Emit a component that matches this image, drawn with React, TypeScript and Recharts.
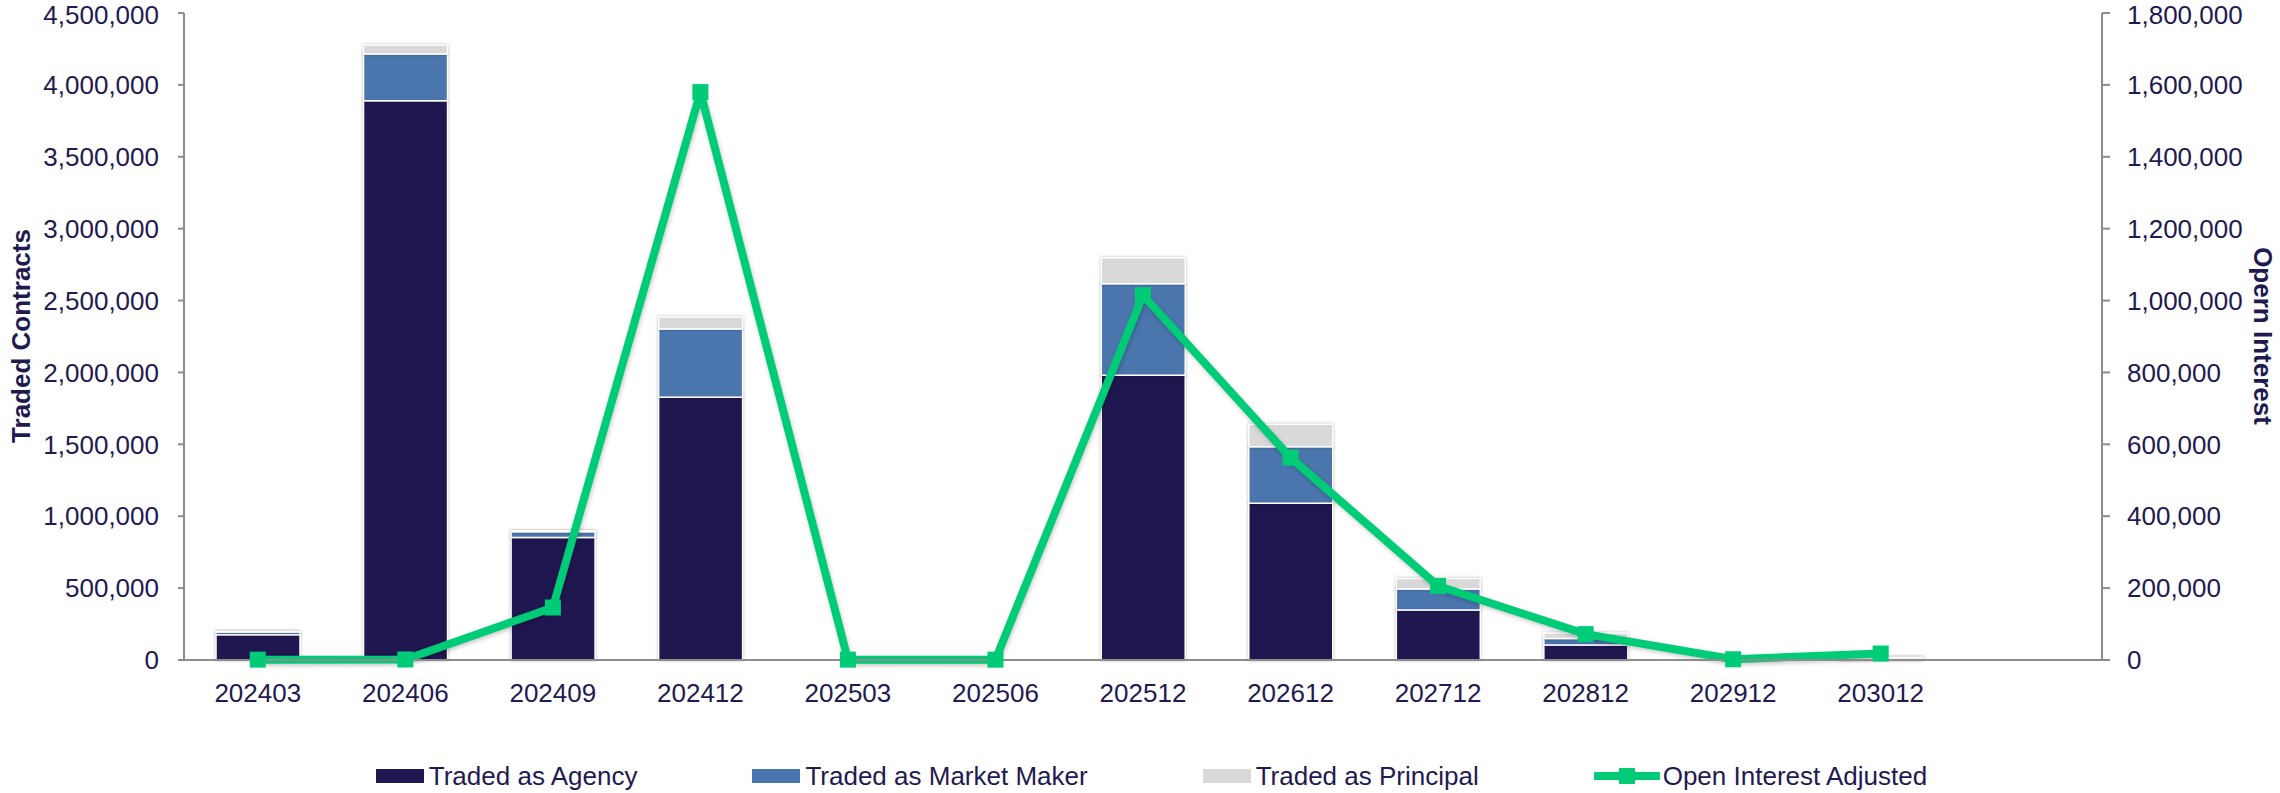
import React from 'react'
import { ComposedChart, Bar, Line, XAxis, YAxis, Legend } from 'recharts'

const categories = ['202403', '202406', '202409', '202412', '202503', '202506', '202512', '202612', '202712', '202812', '202912', '203012', '']
const agency = [175000, 3890000, 852000, 1828000, 0, 0, 1980000, 1090000, 347000, 104000, 0, 10000, null]
const marketMaker = [20000, 325000, 40000, 474000, 0, 0, 637000, 394000, 146000, 46000, 0, 4000, null]
const principal = [4000, 62000, 7000, 84000, 0, 0, 180000, 155000, 74000, 37000, 0, 5000, null]
const openInterest = [1000, 1500, 146000, 1580000, 1000, 1000, 1015000, 563000, 206000, 72000, 2000, 18000, null]
const leftTicks = [0, 500000, 1000000, 1500000, 2000000, 2500000, 3000000, 3500000, 4000000, 4500000]
const rightTicks = [0, 200000, 400000, 600000, 800000, 1000000, 1200000, 1400000, 1600000, 1800000]

const NAVY = '#201751'
const BLUE = '#4A76AD'
const GREY = '#D9D9D9'
const GREEN = '#00CC78'
const TEXT = '#1F1A4F'
const AXIS = '#8c8c8c'
const FONT = '"Liberation Sans", Arial, sans-serif'

const data = categories.map((c, i) => ({
  name: c,
  agency: agency[i],
  marketMaker: marketMaker[i],
  principal: principal[i],
  openInterest: openInterest[i],
}))

const fmt = (v: number) => v.toLocaleString('en-US')

const tickStyle = { fill: TEXT, fontSize: 26, fontFamily: FONT }

const SquareDot = (props: any) => {
  const { cx, cy, value } = props
  if (value == null || cx == null || cy == null) return null
  return <rect key={`d${cx}`} x={cx - 8} y={cy - 8} width={16} height={16} fill={GREEN} />
}

const legendItems = [
  { label: 'Traded as Agency', color: NAVY, kind: 'bar' },
  { label: 'Traded as Market Maker', color: BLUE, kind: 'bar' },
  { label: 'Traded as Principal', color: GREY, kind: 'bar' },
  { label: 'Open Interest Adjusted', color: GREEN, kind: 'line' },
]

const renderLegend = () => (
  <div
    style={{
      height: 83,
      boxSizing: 'border-box',
      paddingTop: 48,
      paddingLeft: 23,
      display: 'flex',
      justifyContent: 'center',
      gap: 115,
      fontFamily: FONT,
      fontSize: 26,
      color: TEXT,
      lineHeight: '28px',
    }}
  >
    {legendItems.map((it) => (
      <div key={it.label} style={{ display: 'flex', alignItems: 'center' }}>
        {it.kind === 'bar' ? (
          <span style={{ display: 'inline-block', width: 48, height: 14, background: it.color, marginRight: 5 }} />
        ) : (
          <svg width={66} height={20} style={{ marginRight: 3 }}>
            <line x1={2} y1={10} x2={64} y2={10} stroke={GREEN} strokeWidth={8} strokeLinecap="round" />
            <rect x={25} y={2} width={16} height={16} fill={GREEN} />
          </svg>
        )}
        <span>{it.label}</span>
      </div>
    ))}
  </div>
)

export default function App() {
  return (
    <div style={{ width: 2280, height: 793, background: '#fff' }}>
      <style>{`
        body{margin:0}
        .recharts-bar-rectangle path{filter:drop-shadow(0 0 1.5px rgba(0,0,0,0.28))}
        .recharts-line-curve{filter:drop-shadow(1px 2px 2px rgba(0,0,0,0.22))}
      `}</style>
      <ComposedChart
        width={2280}
        height={793}
        data={data}
        margin={{ top: 13, right: 0, left: 0, bottom: 0 }}
        barCategoryGap={0}
      >
        <XAxis
          dataKey="name"
          interval={0}
          height={50}
          tickLine={false}
          tickSize={6}
          tickMargin={18}
          axisLine={{ stroke: AXIS, strokeWidth: 2 }}
          tick={tickStyle}
        />
        <YAxis
          yAxisId="left"
          width={184}
          domain={[0, 4500000]}
          ticks={leftTicks}
          tickFormatter={fmt}
          tick={tickStyle}
          tickSize={6}
          tickMargin={19}
          axisLine={{ stroke: AXIS, strokeWidth: 2 }}
          tickLine={{ stroke: AXIS, strokeWidth: 2 }}
          label={{
            content: () => (
              <text
                x={21}
                y={336}
                transform="rotate(-90, 21, 336)"
                textAnchor="middle"
                dominantBaseline="central"
                fill={TEXT}
                fontFamily={FONT}
                fontSize={26}
                fontWeight="bold"
              >
                Traded Contracts
              </text>
            ),
          }}
        />
        <YAxis
          yAxisId="right"
          orientation="right"
          width={178}
          domain={[0, 1800000]}
          ticks={rightTicks}
          tickFormatter={fmt}
          tick={tickStyle}
          tickSize={8}
          tickMargin={17}
          axisLine={{ stroke: AXIS, strokeWidth: 2 }}
          tickLine={{ stroke: AXIS, strokeWidth: 2 }}
          label={{
            content: () => (
              <text
                x={2263}
                y={336}
                transform="rotate(90, 2263, 336)"
                textAnchor="middle"
                dominantBaseline="central"
                fill={TEXT}
                fontFamily={FONT}
                fontSize={26}
                fontWeight="bold"
              >
                Opern Interest
              </text>
            ),
          }}
        />
        <Legend verticalAlign="bottom" content={renderLegend} wrapperStyle={{ left: 0, width: 2280, bottom: 0 }} />
        <Bar yAxisId="left" dataKey="agency" stackId="t" fill={NAVY} stroke="#fff" strokeWidth={1.5} barSize={84} isAnimationActive={false} name="Traded as Agency" />
        <Bar yAxisId="left" dataKey="marketMaker" stackId="t" fill={BLUE} stroke="#fff" strokeWidth={1.5} barSize={84} isAnimationActive={false} name="Traded as Market Maker" />
        <Bar yAxisId="left" dataKey="principal" stackId="t" fill={GREY} stroke="#fff" strokeWidth={1.5} barSize={84} isAnimationActive={false} name="Traded as Principal" />
        <Line
          yAxisId="right"
          dataKey="openInterest"
          stroke={GREEN}
          strokeWidth={8}
          strokeLinejoin="round"
          dot={<SquareDot />}
          activeDot={false}
          isAnimationActive={false}
          name="Open Interest Adjusted"
        />
      </ComposedChart>
    </div>
  )
}
